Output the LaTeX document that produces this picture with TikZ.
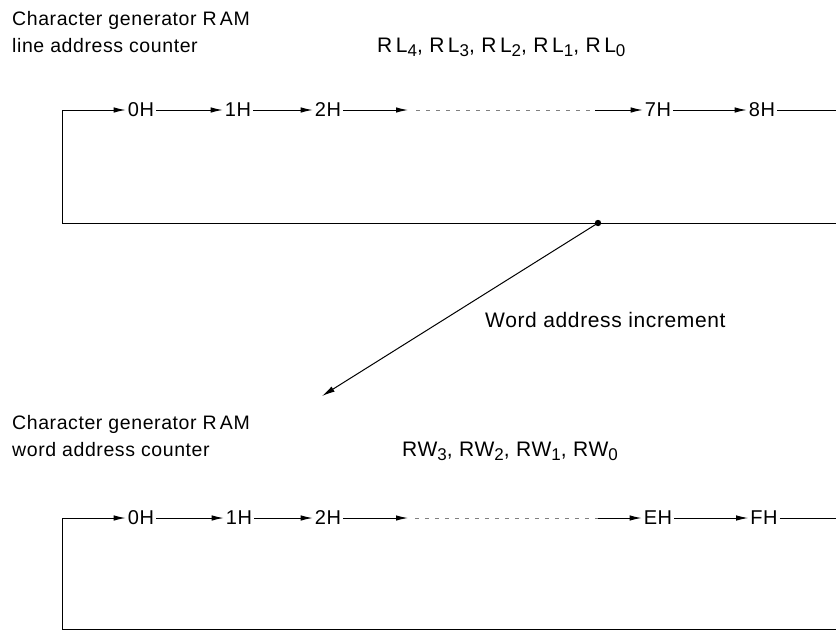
\documentclass[tikz,border=0pt]{standalone}
\usepackage{fontspec}
\setmainfont[LetterSpace=3]{Liberation Sans}
\usetikzlibrary{arrows.meta, positioning}
\tikzset{
  cntlabel/.style={inner sep=2pt, font=\fontsize{20}{20}\selectfont},
  txtlabel/.style={inner sep=0pt, anchor=base west, align=left,
                   font=\fontsize{19.5}{27}\selectfont},
  reglabel/.style={txtlabel, font=\fontsize{21}{21}\selectfont},
  cntline/.style={line width=1pt},
  cntarrow/.style={cntline, -{Latex[length=12pt, width=5.5pt]}},
  cntdash/.style={line width=0.7pt, gray, dash pattern=on 4pt off 6pt},
}
\newcommand{\regsub}[1]{\raisebox{-0.4ex}{\fontsize{17}{17}\selectfont #1}}

\begin{document}
\begin{tikzpicture}[x=1pt, y=-1pt]
    \useasboundingbox (0,0) rectangle (836,630);
    % Line address counter
    \node[txtlabel] (ltitle) at (12,52) {Character generator R\,AM\\line address counter};
    \node[reglabel] (lregs) at (377,52)
      {R\,L\regsub{4}, R\,L\regsub{3}, R\,L\regsub{2}, R\,L\regsub{1}, R\,L\regsub{0}};
    \node[cntlabel] (l0) at (141,110) {0H};
    \node[cntlabel] (l1) at (238,110) {1H};
    \node[cntlabel] (l2) at (328,110) {2H};
    \node[cntlabel] (l7) at (658,110) {7H};
    \node[cntlabel] (l8) at (762,110) {8H};
    \coordinate (lgo) at (408,110);
    \coordinate (lda) at (416,110);
    \coordinate (ldb) at (595,110);
    \coordinate (lne) at (836,110);
    \coordinate (lse) at (836,223);
    \coordinate (lsw) at (62,223);
    \coordinate (lnw) at (62,110);
    \coordinate (inc) at (598,223);
    \draw[cntarrow] (lnw) -- (l0);
    \draw[cntarrow] (l0) -- (l1);
    \draw[cntarrow] (l1) -- (l2);
    \draw[cntarrow] (l2) -- (lgo);
    \draw[cntdash] (lda) -- (ldb);
    \draw[cntarrow] (ldb) -- (l7);
    \draw[cntarrow] (l7) -- (l8);
    \draw[cntline] (l8) -- (lne);
    \draw[cntline] (lse) -- (lsw) -- (lnw);
    % Increment
    \fill (inc) circle (3.2pt);
    \coordinate (wtip) at (322,396);
    \draw[cntline, -{Latex[length=13pt, width=6pt]}] (inc) -- (wtip);
    \node[reglabel] (incl) at (485,327) {Word address increment};
    % Word address counter
    \node[txtlabel] (wtitle) at (12,456) {Character generator R\,AM\\word address counter};
    \node[reglabel] (wregs) at (402,456)
      {RW\regsub{3}, RW\regsub{2}, RW\regsub{1}, RW\regsub{0}};
    \node[cntlabel] (w0) at (141,518) {0H};
    \node[cntlabel] (w1) at (239,518) {1H};
    \node[cntlabel] (w2) at (328,518) {2H};
    \node[cntlabel] (we) at (658,518) {EH};
    \node[cntlabel] (wf) at (764,518) {FH};
    \coordinate (wgo) at (408,518);
    \coordinate (wda) at (415,518);
    \coordinate (wdb) at (598,518);
    \coordinate (wne) at (836,518);
    \coordinate (wse) at (836,629);
    \coordinate (wsw) at (62,629);
    \coordinate (wnw) at (62,518);
    \draw[cntarrow] (wnw) -- (w0);
    \draw[cntarrow] (w0) -- (w1);
    \draw[cntarrow] (w1) -- (w2);
    \draw[cntarrow] (w2) -- (wgo);
    \draw[cntdash] (wda) -- (wdb);
    \draw[cntarrow] (wdb) -- (we);
    \draw[cntarrow] (we) -- (wf);
    \draw[cntline] (wf) -- (wne);
    \draw[cntline] (wse) -- (wsw) -- (wnw);
\end{tikzpicture}
\end{document}
